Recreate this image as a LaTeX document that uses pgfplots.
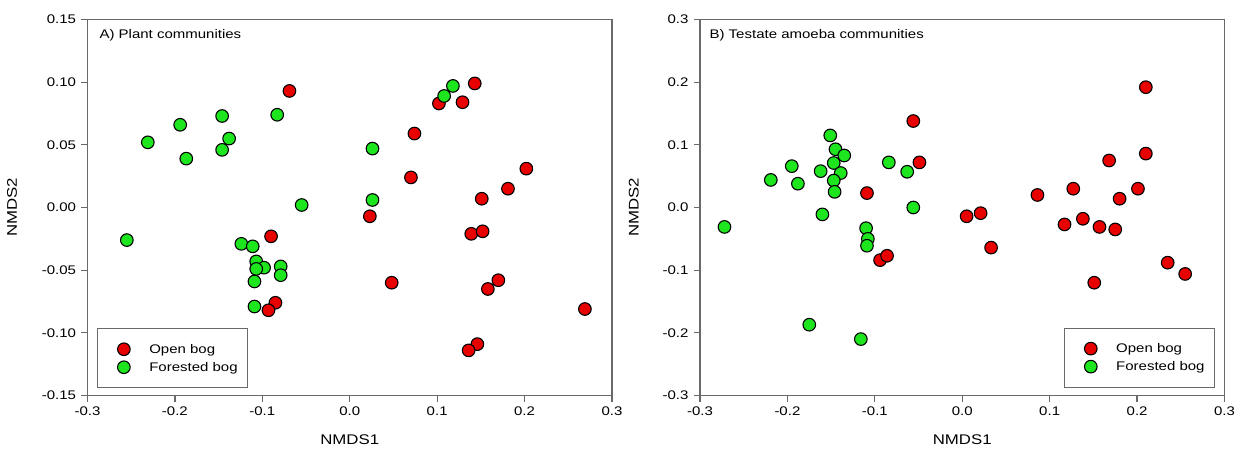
\documentclass[border=0pt]{standalone}
\usepackage{pgfplots}
\pgfplotsset{compat=1.18}
\usepackage{fontspec}
\setmainfont{Liberation Sans}[FakeStretch=1.2]
\definecolor{openred}{RGB}{232,0,0}
\definecolor{forgreen}{RGB}{30,230,30}
\definecolor{axgray}{RGB}{105,105,105}

\pgfplotstableread{
x y
-0.069 0.093
0.143 0.099
0.102 0.083
0.129 0.084
0.074 0.059
0.070 0.024
0.202 0.031
0.181 0.015
0.151 0.007
0.023 -0.007
-0.090 -0.023
-0.085 -0.076
-0.093 -0.082
0.139 -0.021
0.152 -0.019
0.048 -0.060
0.170 -0.058
0.158 -0.065
0.269 -0.081
0.146 -0.109
0.136 -0.114
}\plantopen
\pgfplotstableread{
x y
0.118 0.097
0.108 0.089
0.026 0.047
0.026 0.006
-0.083 0.074
-0.146 0.073
-0.194 0.066
-0.231 0.052
-0.138 0.055
-0.146 0.046
-0.187 0.039
-0.055 0.002
-0.255 -0.026
-0.124 -0.029
-0.111 -0.031
-0.107 -0.043
-0.098 -0.048
-0.107 -0.049
-0.079 -0.047
-0.079 -0.054
-0.109 -0.059
-0.109 -0.079
}\plantforest
\pgfplotstableread{
x y
-0.109 0.023
-0.056 0.138
-0.049 0.072
-0.094 -0.084
-0.086 -0.077
0.210 0.192
0.210 0.086
0.168 0.075
0.127 0.030
0.086 0.020
0.201 0.030
0.180 0.014
0.021 -0.009
0.005 -0.014
0.033 -0.064
0.117 -0.027
0.138 -0.018
0.157 -0.031
0.175 -0.035
0.235 -0.088
0.255 -0.106
0.151 -0.120
}\amoebaopen
\pgfplotstableread{
x y
-0.151 0.115
-0.145 0.093
-0.135 0.083
-0.147 0.071
-0.139 0.055
-0.162 0.058
-0.195 0.066
-0.219 0.044
-0.188 0.038
-0.147 0.043
-0.146 0.025
-0.084 0.072
-0.063 0.057
-0.056 0.000
-0.160 -0.011
-0.272 -0.031
-0.110 -0.033
-0.108 -0.050
-0.109 -0.061
-0.175 -0.187
-0.116 -0.210
}\amoebaforest

\pgfplotsset{
 nmds/.style={
  scale only axis, width=524.5pt, height=376pt,
  anchor=south west,
  xmin=-0.3, xmax=0.3,
  xtick={-0.3,-0.2,-0.1,0,0.1,0.2,0.3},
  tick pos=left, tick align=outside, major tick length=6pt,
  axis line style={draw=axgray, line width=1.6pt},
  tick style={draw=axgray, line width=1.2pt},
  /pgf/number format/assume math mode=true,
  xticklabel style={font=\fontsize{12.5}{14}\selectfont, yshift=-2pt,
    /pgf/number format/.cd, fixed, fixed zerofill, precision=1},
  yticklabel style={font=\fontsize{12.5}{14}\selectfont, xshift=-2pt},
  label style={font=\fontsize{14}{16}\selectfont},
  xlabel={NMDS1}, ylabel={NMDS2},
  xlabel style={at={(axis description cs:0.5,-0.118)}, anchor=center},
  legend cell align=left,
  legend style={draw=axgray, line width=1.2pt, inner xsep=0pt, inner ysep=11.5pt,
    nodes={inner sep=0pt}, font=\fontsize{12.5}{14}\selectfont},
  clip=false,
 },
 mylegimg/.style={legend image code/.code={\path[draw=none,fill=none] (0pt,-9pt) rectangle (52pt,9pt);
   \draw[##1] plot coordinates {(26.6pt,0pt)};}},
 openbog/.style={only marks, mark=*, mark size=6.3pt,
   mark options={fill=openred, draw=black, line width=1.1pt}, mylegimg},
 forestbog/.style={only marks, mark=*, mark size=6.3pt,
   mark options={fill=forgreen, draw=black, line width=1.1pt}, mylegimg},
}

\begin{document}
\begin{tikzpicture}
\useasboundingbox (0,0) rectangle (1242pt,459pt);
\begin{axis}[nmds, at={(87.5pt,63.5pt)},
  ymin=-0.15, ymax=0.15,
  ytick={-0.15,-0.10,-0.05,0,0.05,0.10,0.15},
  yticklabel style={/pgf/number format/.cd, fixed, fixed zerofill, precision=2},
  ylabel style={at={(axis description cs:-0.144,0.5)}, anchor=center},
  legend style={at={(0.0175,0.019)}, anchor=south west},
]
\addplot[openbog] table {\plantopen};
\addlegendentry{\makebox[98pt][l]{Open bog}}
\addplot[forestbog] table {\plantforest};
\addlegendentry{\makebox[98pt][l]{Forested bog}}
\node[anchor=west, font=\fontsize{12.5}{14}\selectfont] at (rel axis cs:0.0162,0.9588) {A) Plant communities};
\end{axis}
\begin{axis}[nmds, at={(700pt,63.5pt)},
  ymin=-0.3, ymax=0.3,
  ytick={-0.3,-0.2,-0.1,0,0.1,0.2,0.3},
  yticklabel style={/pgf/number format/.cd, fixed, fixed zerofill, precision=1},
  ylabel style={at={(axis description cs:-0.126,0.5)}, anchor=center},
  legend style={at={(0.9815,0.0207)}, anchor=south east},
]
\addplot[openbog] table {\amoebaopen};
\addlegendentry{\makebox[98pt][l]{Open bog}}
\addplot[forestbog] table {\amoebaforest};
\addlegendentry{\makebox[98pt][l]{Forested bog}}
\node[anchor=west, font=\fontsize{12.5}{14}\selectfont] at (rel axis cs:0.0115,0.9588) {B) Testate amoeba communities};
\end{axis}
\end{tikzpicture}
\end{document}
